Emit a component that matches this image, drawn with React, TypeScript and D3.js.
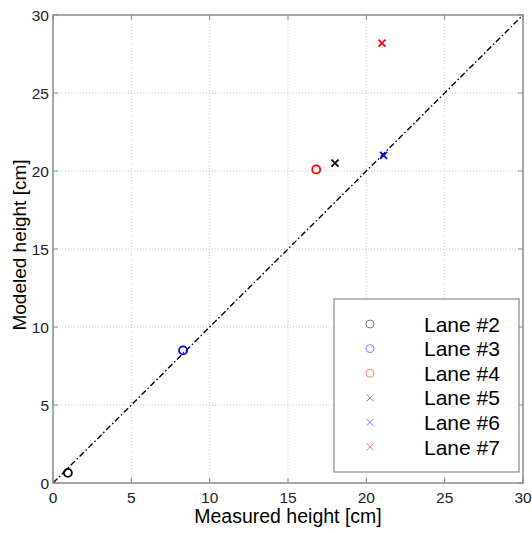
import React from "react";
import * as d3 from "d3";

const lanes = ["Lane #2", "Lane #3", "Lane #4", "Lane #5", "Lane #6", "Lane #7"];
const measured = [0.95, 8.3, 16.8, 18.0, 21.1, 21.0];
const modeled = [0.65, 8.5, 20.1, 20.5, 21.0, 28.2];
const markers = ["o", "o", "o", "x", "x", "x"];
const colors = ["#000000", "#0000ff", "#ff0000", "#000000", "#0000ff", "#ff0000"];
const legendColors = ["#7f7f7f", "#7f7fff", "#ff7f7f", "#7f7f7f", "#7f7fff", "#ff7f7f"];
const ticks = [0, 5, 10, 15, 20, 25, 30];
const refLine = [0, 30];

const W = 532, H = 533;
const L = 53, R = 523, T = 15, B = 483;

export default function App() {
  const x = d3.scaleLinear().domain([0, 30]).range([L, R]);
  const y = d3.scaleLinear().domain([0, 30]).range([B, T]);
  const axisColor = "#8a8a8a";
  const font = "Arial, 'Liberation Sans', Helvetica, sans-serif";
  const line = d3.line<number>().x((d) => x(d)).y((d) => y(d));

  const marker = (t: string, cx: number, cy: number, c: string, sw: number, key: any) =>
    t === "o" ? (
      <circle key={key} cx={cx} cy={cy} r={4} fill="none" stroke={c} strokeWidth={sw} />
    ) : (
      <path key={key} d={`M${cx - 3.5},${cy - 3.5}L${cx + 3.5},${cy + 3.5}M${cx - 3.5},${cy + 3.5}L${cx + 3.5},${cy - 3.5}`} stroke={c} strokeWidth={sw} fill="none" />
    );

  const legX = 334, legY = 299, legW = 185, legH = 173;
  const rowY = (i: number) => 324 + i * 24.6;

  return (
    <svg width={W} height={H} style={{ position: "absolute", left: 0, top: 0, background: "#fff" }}>
      <rect x={0} y={0} width={W} height={H} fill="#fff" />
      {/* grid */}
      {ticks.slice(1, -1).map((t) => (
        <g key={"g" + t}>
          <line x1={x(t)} x2={x(t)} y1={T} y2={B} stroke="#c8c8c8" strokeWidth={1} strokeDasharray="1,2" />
          <line x1={L} x2={R} y1={y(t)} y2={y(t)} stroke="#c8c8c8" strokeWidth={1} strokeDasharray="1,2" />
        </g>
      ))}
      {/* ticks */}
      {ticks.map((t) => (
        <g key={"t" + t}>
          <line x1={x(t)} x2={x(t)} y1={B} y2={B - 5} stroke={axisColor} />
          <line x1={x(t)} x2={x(t)} y1={T} y2={T + 5} stroke={axisColor} />
          <line x1={L} x2={L + 5} y1={y(t)} y2={y(t)} stroke={axisColor} />
          <line x1={R} x2={R - 5} y1={y(t)} y2={y(t)} stroke={axisColor} />
          <text x={x(t)} y={503} textAnchor="middle" fontFamily={font} fontSize={15.5} fill="#222">{t}</text>
          <text x={49} y={y(t) + 5.5} textAnchor="end" fontFamily={font} fontSize={15.5} fill="#222">{t}</text>
        </g>
      ))}
      {/* reference line */}
      <path d={line(refLine) || ""} stroke="#000" strokeWidth={1.4} fill="none" strokeDasharray="6,2.5,1.5,2.5" />
      {/* points */}
      {lanes.map((l, i) => marker(markers[i], x(measured[i]), y(modeled[i]), colors[i], 1.8, "p" + i))}
      {/* box */}
      <rect x={L} y={T} width={R - L} height={B - T} fill="none" stroke={axisColor} strokeWidth={1.5} />
      {/* legend */}
      <rect x={legX} y={legY} width={legW} height={legH} fill="#fff" stroke={axisColor} strokeWidth={1.2} />
      {lanes.map((l, i) => (
        <g key={"l" + i}>
          {marker(markers[i], 370, rowY(i), legendColors[i], 1, "lm" + i)}
          <text x={424} y={rowY(i) + 7.5} fontFamily={font} fontSize={21} fill="#000">{l}</text>
        </g>
      ))}
      {/* axis labels */}
      <text x={(L + R) / 2} y={523} textAnchor="middle" fontFamily={font} fontSize={19.5} fill="#000">Measured height [cm]</text>
      <text transform={`translate(26,${(T + B) / 2 - 4}) rotate(-90)`} textAnchor="middle" fontFamily={font} fontSize={19} fill="#000">Modeled height [cm]</text>
    </svg>
  );
}
